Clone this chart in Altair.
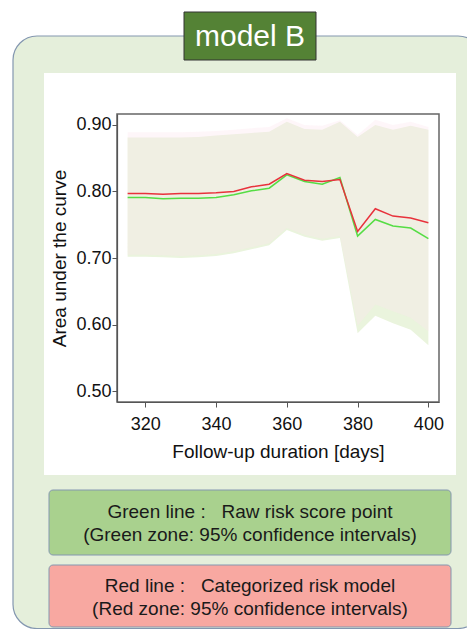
import altair as alt
import pandas as pd

FONT = "Liberation Sans"
NB = "\u00a0"

# ---- data ----
days = [315, 320, 325, 330, 335, 340, 345, 350, 355, 360, 365, 370, 375, 380, 385, 390, 395, 400]
auc_raw = [0.791, 0.791, 0.789, 0.790, 0.790, 0.791, 0.795, 0.801, 0.805, 0.825, 0.815, 0.811, 0.821, 0.733, 0.758, 0.748, 0.745, 0.729]
auc_cat = [0.797, 0.797, 0.796, 0.797, 0.797, 0.798, 0.800, 0.807, 0.811, 0.827, 0.817, 0.815, 0.818, 0.740, 0.774, 0.763, 0.760, 0.753]
raw_lo = [0.702, 0.702, 0.701, 0.700, 0.701, 0.703, 0.707, 0.713, 0.719, 0.742, 0.732, 0.726, 0.730, 0.587, 0.613, 0.602, 0.592, 0.569]
raw_hi = [0.881, 0.881, 0.881, 0.881, 0.882, 0.884, 0.886, 0.888, 0.890, 0.905, 0.894, 0.893, 0.905, 0.882, 0.900, 0.893, 0.899, 0.893]
cat_lo = [0.705, 0.705, 0.704, 0.703, 0.704, 0.706, 0.710, 0.716, 0.722, 0.745, 0.735, 0.729, 0.733, 0.598, 0.630, 0.620, 0.610, 0.590]
cat_hi = [0.889, 0.889, 0.889, 0.889, 0.890, 0.891, 0.893, 0.895, 0.897, 0.910, 0.900, 0.899, 0.907, 0.885, 0.908, 0.900, 0.905, 0.897]

x_ticks = [320, 340, 360, 380, 400]
y_ticks = [0.50, 0.60, 0.70, 0.80, 0.90]

title_text = "model B"
legend_green = ["Green line :" + NB * 3 + "Raw risk score point", "(Green zone: 95% confidence intervals)"]
legend_red = ["Red line :" + NB * 3 + "Categorized risk model", "(Red zone: 95% confidence intervals)"]

df = pd.DataFrame({"day": days, "raw": auc_raw, "cat": auc_cat,
                   "raw_lo": raw_lo, "raw_hi": raw_hi, "cat_lo": cat_lo, "cat_hi": cat_hi})
one = pd.DataFrame({"k": [0]})

# plot-area origin on the page
OX, OY = 117, 114
W, H = 322, 288


def box(x1, y1, x2, y2, fill, stroke=None, sw=0, r=0, fo=1):
    kw = dict(fill=fill, cornerRadius=r, fillOpacity=fo)
    if stroke:
        kw.update(stroke=stroke, strokeWidth=sw)
    return alt.Chart(one).mark_rect(**kw).encode(
        x=alt.value(x1 - OX), x2=alt.value(x2 - OX),
        y=alt.value(y1 - OY), y2=alt.value(y2 - OY))


def txt(s, x, y, size, color):
    return alt.Chart(one).mark_text(text=s, font=FONT, fontSize=size, color=color,
                                    align="center", baseline="middle").encode(
        x=alt.value(x - OX), y=alt.value(y - OY))


xenc = alt.X("day:Q", scale=alt.Scale(domain=[312, 403], nice=False, zero=False),
             axis=alt.Axis(values=x_ticks, title="Follow-up duration [days]",
                           labelPadding=8, titlePadding=9, zindex=2))
yscale = alt.Scale(domain=[0.4835, 0.9165], nice=False, zero=False)
yaxis = alt.Axis(values=y_ticks, format=".2f", title="Area under the curve",
                 labelPadding=1, titlePadding=6, zindex=2)

base = alt.Chart(df)
green_band = base.mark_area(color="#eaf4dd", opacity=1).encode(
    x=xenc, y=alt.Y("raw_lo:Q", scale=yscale, axis=yaxis), y2="raw_hi:Q")
red_band = base.mark_area(color="#fbe6ee", opacity=0.35).encode(
    x=xenc, y=alt.Y("cat_lo:Q", scale=yscale, axis=yaxis), y2="cat_hi:Q")
green_line = base.mark_line(color="#55dd44", strokeWidth=1.5).encode(
    x=xenc, y=alt.Y("raw:Q", scale=yscale, axis=yaxis))
red_line = base.mark_line(color="#e8323c", strokeWidth=1.5).encode(
    x=xenc, y=alt.Y("cat:Q", scale=yscale, axis=yaxis))

layers = [
    box(13, 36, 482, 628.5, "#e5efdb", "#8497b0", 1.2, 24),   # outer panel
    box(44, 73, 456, 475, "#ffffff"),                         # white chart area
    box(184, 12, 316, 60, "#548235", "#333333", 1),           # title box
    txt(title_text, 250, 37, 30, "#ffffff"),
    box(49, 490, 451, 555, "#a9d18e", "#8497b0", 1, 4),
    txt(legend_green[0], 250, 512, 19, "#1a1a1a"),
    txt(legend_green[1], 250, 535, 19, "#1a1a1a"),
    box(49, 565, 451, 627, "#f8a8a1", "#8497b0", 1, 4),
    txt(legend_red[0], 250, 586, 19, "#1a1a1a"),
    txt(legend_red[1], 250, 609, 19, "#1a1a1a"),
    green_band, red_band, green_line, red_line,
    box(OX, OY, OX + W, OY + H, "#ffffff", "#666666", 1.5, 0, 0),  # plot frame
]

chart = alt.layer(*layers).properties(
    width=W, height=H, autosize="none",
    padding={"left": OX - 8, "top": OY - 8, "right": 467 - (OX + W), "bottom": 629 - (OY + H)},
).configure_view(stroke=None).configure_axis(
    grid=False, labelFont=FONT, titleFont=FONT, labelFontSize=18, titleFontSize=19,
    titleFontWeight="normal", labelColor="#111111", titleColor="#111111",
    domainColor="#555555", tickColor="#555555", tickSize=5, domainWidth=1.2,
)

chart.save("out.html", embed_options={"renderer": "svg", "actions": False})
